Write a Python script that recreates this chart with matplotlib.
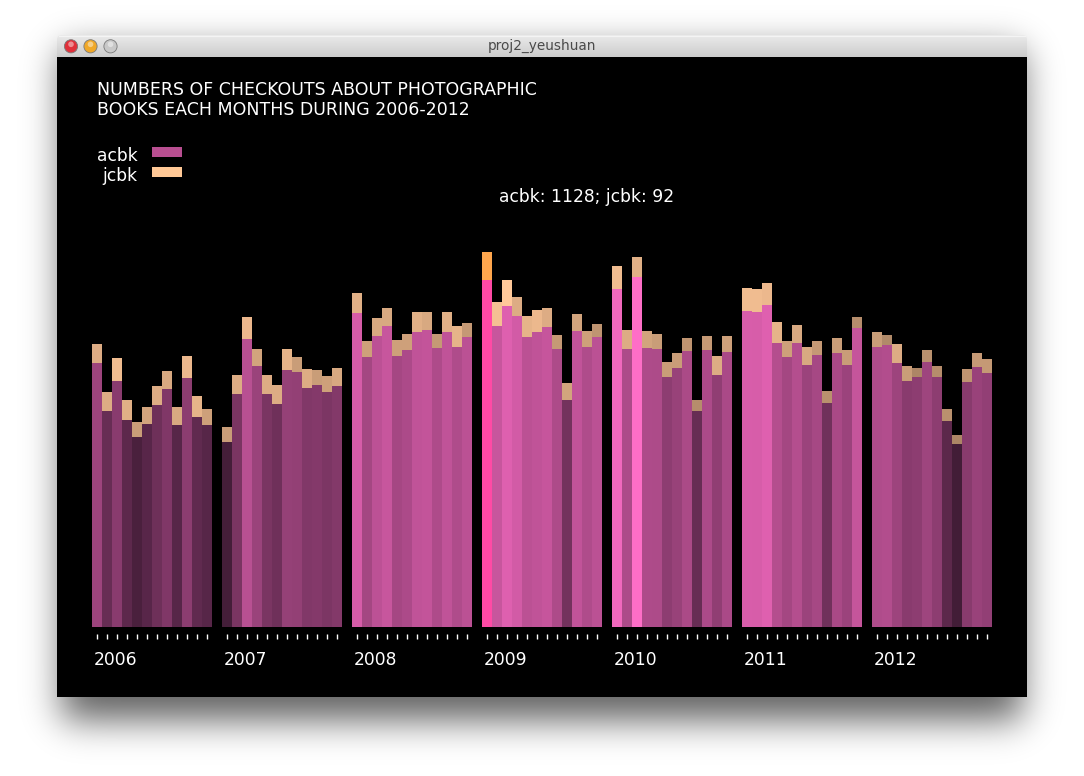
import math
import numpy as np
import matplotlib
matplotlib.use("Agg")
import matplotlib.pyplot as plt
from matplotlib.patches import Rectangle, Circle, FancyBboxPatch

# monthly checkouts
years = ["2006", "2007", "2008", "2009", "2010", "2011", "2012"]
acbk = [
    [858, 702, 800, 673, 618, 660, 722, 774, 657, 809, 683, 657],
    [601, 757, 936, 849, 757, 725, 836, 829, 777, 787, 764, 783],
    [1021, 878, 946, 979, 881, 901, 959, 966, 907, 959, 910, 943],
    [1128, 979, 1044, 1011, 943, 959, 975, 904, 738, 962, 910, 943],
    [1099, 904, 1138, 907, 904, 813, 842, 897, 702, 901, 819, 894],
    [1027, 1024, 1047, 923, 878, 923, 852, 884, 728, 891, 852, 972],
    [910, 917, 858, 800, 813, 862, 813, 670, 595, 797, 845, 826],
]
jcbk = [
    [62, 62, 75, 65, 49, 55, 62, 59, 59, 72, 68, 52],
    [49, 62, 72, 55, 62, 62, 68, 49, 62, 49, 52, 59],
    [65, 52, 59, 59, 52, 52, 65, 59, 46, 65, 68, 46],
    [92, 78, 85, 62, 68, 72, 62, 46, 55, 55, 52, 42],
    [75, 62, 65, 55, 49, 49, 49, 42, 36, 46, 62, 52],
    [75, 75, 72, 68, 52, 59, 59, 46, 39, 49, 49, 36],
    [49, 33, 62, 49, 29, 39, 36, 39, 29, 42, 46, 46],
]
hover = (3, 0)  # 2009 January is highlighted

W, H = 1084, 776
fig = plt.figure(figsize=(W / 100, H / 100), dpi=100)
fig.patch.set_facecolor("white")


def fx(x):
    return x / W


def fy(y):
    return 1 - y / H


# window shadow, blurred rectangle
bg = fig.add_axes([0, 0, 1, 1])
bg.set_xlim(0, W)
bg.set_ylim(H, 0)
bg.axis("off")
erf = np.vectorize(math.erf)
xs = np.arange(W) + 0.5
ys = np.arange(H) + 0.5
sig = 18.0
sx = 0.5 * (erf((xs - 62) / (sig * 1.414)) - erf((xs - 1022) / (sig * 1.414)))
sy = 0.5 * (erf((ys - 50) / (sig * 1.414)) - erf((ys - 720) / (sig * 1.414)))
shadow = 0.62 * np.outer(sy, sx)
rgba = np.zeros((H, W, 4))
rgba[..., 3] = shadow
bg.imshow(rgba, extent=[0, W, H, 0], interpolation="bilinear", zorder=0)

# title bar with gradient
grad = np.linspace(0.92, 0.80, 50).reshape(-1, 1)
bar_img = bg.imshow(np.dstack([grad, grad, grad]), extent=[57, 1027, 57, 35],
                    aspect="auto", zorder=1)
clip = FancyBboxPatch((57, 35), 970, 30, boxstyle="round,pad=0,rounding_size=5",
                      transform=bg.transData, facecolor="none", edgecolor="none")
bg.add_patch(clip)
bar_img.set_clip_path(clip)
bg.plot([59, 1025], [35.5, 35.5], color="#f4f4f4", lw=0.8, zorder=2)
for cx, col in [(71, "#e0303a"), (90.5, "#f0a828"), (110.5, "#c8c8c8")]:
    bg.add_patch(Circle((cx, 46.3), 6.6, facecolor=col, edgecolor="#7a7a7a", lw=0.6, zorder=3))
    bg.add_patch(Circle((cx, 44.3), 2.8, facecolor="white", alpha=0.45, edgecolor="none", zorder=4))
bg.text(542, 49.5, "proj2_yeushuan", color="#4a4a4a", fontsize=9.8, ha="center",
        va="baseline", zorder=5)

# black canvas holding the chart
s = 347 / 1128  # pixels per checkout
ax = fig.add_axes([fx(57), fy(697), fx(970), 640 / H])
ax.set_facecolor("black")
ax.set_xlim(57, 1027)
ax.set_ylim(-70 / s, 570 / s)
for sp in ax.spines.values():
    sp.set_visible(False)
ax.set_xticks([])
ax.set_yticks([])


def mix(c0, c1, t):
    t = min(max(t, 0), 1)
    return tuple((a + (b - a) * t) / 255 for a, b in zip(c0, c1))


for i, yr in enumerate(years):
    left = 92 + i * 130
    xpos = [left + 5 + m * 10 for m in range(12)]
    ac_cols = [mix((0x40, 0x1c, 0x36), (0xff, 0x6e, 0xc8), (v - 590) / 550) for v in acbk[i]]
    jc_cols = [mix((0xad, 0x86, 0x66), (0xff, 0xc8, 0x99), (v - 30) / 55) for v in jcbk[i]]
    if hover[0] == i:
        ac_cols[hover[1]] = "#ff4aa5"
        jc_cols[hover[1]] = "#ffa64d"
    ax.bar(xpos, acbk[i], width=10, color=ac_cols, linewidth=0)
    ax.bar(xpos, jcbk[i], width=10, bottom=acbk[i], color=jc_cols, linewidth=0)
    ax.vlines(xpos, -7 / s, -12 / s, color="white", lw=1)
    ax.text(left + 2, -38 / s, yr, color="white", fontsize=12.3, ha="left", va="baseline")

hi, hm = hover
ax.text(587, (627 - 202) / s, "acbk: %d; jcbk: %d" % (acbk[hi][hm], jcbk[hi][hm]),
        color="white", fontsize=12.3, ha="center", va="baseline")

fig.text(fx(97), fy(95), "NUMBERS OF CHECKOUTS ABOUT PHOTOGRAPHIC", color="white",
         fontsize=12.5, va="baseline")
fig.text(fx(97), fy(115), "BOOKS EACH MONTHS DURING 2006-2012", color="white",
         fontsize=12.5, va="baseline")

# legend
fig.text(fx(97), fy(161), "acbk", color="white", fontsize=12.3, va="baseline")
fig.text(fx(102), fy(181), "jcbk", color="white", fontsize=12.3, va="baseline")
fig.add_artist(Rectangle((fx(152), fy(157)), 30 / W, 10 / H, transform=fig.transFigure,
                         facecolor="#b94f91", edgecolor="none"))
fig.add_artist(Rectangle((fx(152), fy(177)), 30 / W, 10 / H, transform=fig.transFigure,
                         facecolor="#ffc896", edgecolor="none"))

fig.savefig("out.png", dpi=100, facecolor="white")
